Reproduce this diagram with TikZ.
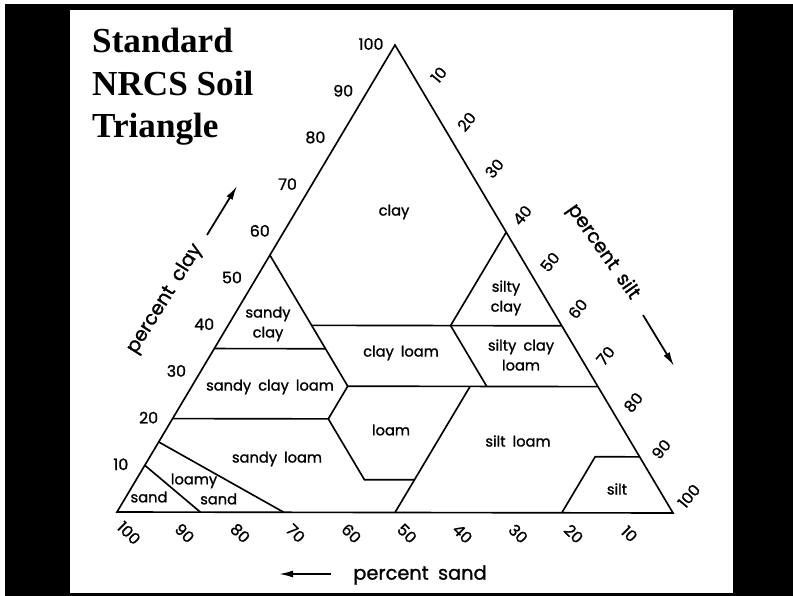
\documentclass[tikz,border=0pt]{standalone}
\usepackage{fontspec}
\setmainfont{Liberation Serif}
\newfontfamily\soilfont{Poppins}[WordSpace=1.8, FakeBold=1.2]
\usetikzlibrary{arrows.meta, calc}
\tikzset{
  soilline/.style={line width=1.4pt, black, line join=miter},
  zone/.style={font=\soilfont\fontsize{12.5}{17}\selectfont, align=center, inner sep=0pt},
  ticklabel/.style={font=\soilfont\fontsize{13.5}{14}\selectfont, inner sep=0pt},
  axislabel/.style={font=\soilfont\fontsize{16.5}{18}\selectfont, inner sep=0pt},
  axarr/.style={-{Latex[length=12pt,width=6pt]}, line width=1.5pt},
}
\begin{document}
\begin{tikzpicture}[x=0.03cm, y=-0.03cm]
  \useasboundingbox (0,0) rectangle (793,596);
  % frame
  \fill[black] (5,4) rectangle (793,596);
  \fill[white] (70,10) rectangle (733,593);

  % Title
  \node[anchor=north west, inner sep=0pt, align=left, font=\bfseries\fontsize{30}{36.3}\selectfont] (title) at (92,28) {Standard\\NRCS Soil\\Triangle};

  % Triangle corners: A = 100% sand, B = 100% silt, C = 100% clay
  \coordinate (A) at (117,512);
  \coordinate (B) at (673,513);
  \coordinate (C) at (395,45);
  \draw[soilline] (A) -- (B) -- (C) -- cycle;

  % Class boundary points (sand, silt, clay as fractions)
  \coordinate (scTop)  at (barycentric cs:A=.45,B=0,C=.55);
  \coordinate (scBase) at (barycentric cs:A=.45,B=.20,C=.35);
  \coordinate (scLeft) at (barycentric cs:A=.65,B=0,C=.35);
  \coordinate (cMidL)  at (barycentric cs:A=.45,B=.15,C=.40);
  \coordinate (cMidR)  at (barycentric cs:A=.20,B=.40,C=.40);
  \coordinate (c40R)   at (barycentric cs:A=0,B=.60,C=.40);
  \coordinate (syTop)  at (barycentric cs:A=0,B=.40,C=.60);
  \coordinate (clBL)   at (barycentric cs:A=.45,B=.28,C=.27);
  \coordinate (sclBR)  at (barycentric cs:A=.20,B=.53,C=.27);
  \coordinate (lTR)    at (barycentric cs:A=.23,B=.50,C=.27);
  \coordinate (c27R)   at (barycentric cs:A=0,B=.73,C=.27);
  \coordinate (slTR)   at (barycentric cs:A=.52,B=.28,C=.20);
  \coordinate (slL)    at (barycentric cs:A=.80,B=0,C=.20);
  \coordinate (lBL)    at (barycentric cs:A=.52,B=.41,C=.07);
  \coordinate (lBR)    at (barycentric cs:A=.43,B=.50,C=.07);
  \coordinate (s50B)   at (barycentric cs:A=.50,B=.50,C=0);
  \coordinate (siTR)   at (barycentric cs:A=0,B=.88,C=.12);
  \coordinate (siTL)   at (barycentric cs:A=.08,B=.80,C=.12);
  \coordinate (siB)    at (barycentric cs:A=.20,B=.80,C=0);
  \coordinate (lsL)    at (barycentric cs:A=.85,B=0,C=.15);
  \coordinate (lsB)    at (barycentric cs:A=.70,B=.30,C=0);
  \coordinate (sL)     at (barycentric cs:A=.90,B=0,C=.10);
  \coordinate (sB)     at (barycentric cs:A=.85,B=.15,C=0);

  % Class boundaries
  \draw[soilline] (scTop) -- (clBL);
  \draw[soilline] (scLeft) -- (scBase);
  \draw[soilline] (cMidL) -- (c40R);
  \draw[soilline] (cMidR) -- (syTop);
  \draw[soilline] (cMidR) -- (sclBR);
  \draw[soilline] (clBL) -- (c27R);
  \draw[soilline] (clBL) -- (slTR);
  \draw[soilline] (slL) -- (slTR) -- (lBL) -- (lBR);
  \draw[soilline] (lTR) -- (s50B);
  \draw[soilline] (siTR) -- (siTL) -- (siB);
  \draw[soilline] (lsL) -- (lsB);
  \draw[soilline] (sL) -- (sB);

  % Axis numbers
  \foreach \c in {10,20,...,100}
    \node[ticklabel] (clay\c) at ($(A)!\c/100!(C) + (-24,-1)$) {\c};
  \foreach \s in {10,20,...,100}
    \node[ticklabel, rotate=50] (silt\s) at ($(C)!\s/100!(B) + (16,-17)$) {\s};
  \foreach \s in {10,20,...,100}
    \node[ticklabel, rotate=-45] (sand\s) at ($(B)!\s/100!(A) + (12,21)$) {\s};

  % Axis titles
  \node[axislabel, rotate=58] (pclay) at (165,299) {percent clay};
  \coordinate (clayTail) at (207,235);
  \coordinate (clayTip) at (237,186);
  \draw[axarr] (clayTail) -- (clayTip);
  \node[axislabel, rotate=-55] (psilt) at (603,252) {percent silt};
  \coordinate (siltTail) at (643,315);
  \coordinate (siltTip) at (674,366);
  \draw[axarr] (siltTail) -- (siltTip);
  \node[axislabel] (psand) at (420,575) {percent sand};
  \coordinate (sandTail) at (331,574);
  \coordinate (sandTip) at (279,574);
  \draw[axarr] (sandTail) -- (sandTip);

  % Texture classes
  \node[zone] (zclay) at (394,212) {clay};
  \node[zone] (zsandyclay) at (268,324) {sandy\\clay};
  \node[zone] (zclayloam) at (401,353) {clay loam};
  \node[zone] (zsiltyclay) at (506,298) {silty\\clay};
  \node[zone] (zsiltyclayloam) at (521,355) {silty clay\\loam};
  \node[zone] (zsandyclayloam) at (270,387) {sandy clay loam};
  \node[zone] (zloam) at (391,430) {loam};
  \node[zone] (zsiltloam) at (518,441) {silt loam};
  \node[zone] (zsandyloam) at (277,459) {sandy loam};
  \node[zone, align=left] (zloamysand) at (204,489) {loamy\\\hspace*{25pt}sand};
  \node[zone] (zsand) at (149,497) {sand};
  \node[zone] (zsilt) at (617,489) {silt};
\end{tikzpicture}
\end{document}
